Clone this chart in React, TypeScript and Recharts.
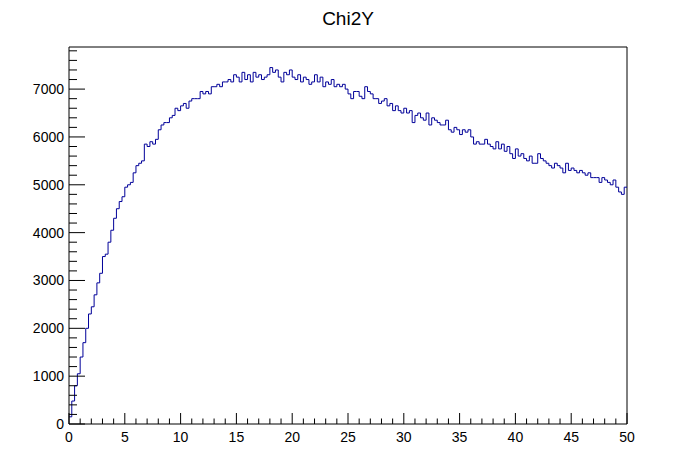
import React from "react";
import { LineChart, Line, XAxis, YAxis, ReferenceLine } from "recharts";

const binWidth = 0.25;
const counts: number[] = [
  150, 480, 800, 1050, 1400, 1700, 2000, 2300, 2450, 2700, 2950, 3150,
  3500, 3550, 3800, 4050, 4300, 4500, 4650, 4750, 4950, 5000, 5050, 5250,
  5400, 5450, 5500, 5850, 5800, 5900, 5850, 5950, 6150, 6250, 6300, 6300,
  6400, 6450, 6600, 6550, 6650, 6700, 6600, 6750, 6800, 6800, 6800, 6950,
  6900, 6950, 6900, 7050, 7050, 7100, 7050, 7150, 7150, 7200, 7150, 7300,
  7250, 7150, 7350, 7200, 7300, 7150, 7350, 7250, 7300, 7200, 7250, 7300,
  7450, 7350, 7400, 7250, 7150, 7350, 7300, 7400, 7250, 7200, 7300, 7150,
  7250, 7200, 7100, 7150, 7300, 7150, 7250, 7050, 7150, 7100, 7200, 7050,
  7100, 7050, 7100, 7000, 6900, 6800, 6950, 6950, 6850, 6800, 7050, 6950,
  6900, 6800, 6800, 6700, 6750, 6800, 6650, 6700, 6550, 6650, 6550, 6500,
  6600, 6500, 6550, 6300, 6450, 6500, 6400, 6350, 6500, 6250, 6400, 6350,
  6300, 6250, 6250, 6350, 6150, 6100, 6200, 6150, 6050, 6150, 6100, 6150,
  6000, 5850, 5900, 5850, 5850, 5950, 5850, 5800, 5750, 5900, 5750, 5850,
  5700, 5800, 5650, 5550, 5750, 5600, 5650, 5550, 5500, 5600, 5450, 5450,
  5650, 5550, 5500, 5450, 5400, 5350, 5450, 5400, 5350, 5250, 5450, 5300,
  5350, 5300, 5250, 5300, 5250, 5200, 5250, 5150, 5150, 5150, 5050, 5150,
  5100, 5050, 5000, 5100, 4950, 4850, 4800, 4950,
];
const xMajor = [0, 5, 10, 15, 20, 25, 30, 35, 40, 45, 50];
const yMajor = [0, 1000, 2000, 3000, 4000, 5000, 6000, 7000];
const yMax = 7880;

const data = counts.map((c, i) => ({ x: i * binWidth, y: c }));
data.push({ x: 50, y: counts[counts.length - 1] });

const xTicks: number[] = [];
for (let i = 0; i <= 50; i++) xTicks.push(i);
const yTicks: number[] = [];
for (let v = 0; v <= 7800; v += 200) yTicks.push(v);

const FONT = "'Liberation Sans', Arial, sans-serif";

const XTick = (p: any) => {
  const v = p.payload.value;
  const major = xMajor.includes(v);
  return (
    <g>
      <line x1={p.x} x2={p.x} y1={424} y2={major ? 413 : 418.5} stroke="#000" />
      {major && (
        <text x={p.x} y={442} textAnchor="middle" fontSize={14} fontFamily={FONT} fill="#000">
          {v}
        </text>
      )}
    </g>
  );
};

const YTick = (p: any) => {
  const v = p.payload.value;
  const major = yMajor.includes(v);
  return (
    <g>
      <line x1={69} x2={major ? 85 : 77} y1={p.y} y2={p.y} stroke="#000" />
      {major && (
        <text x={64} y={p.y + 5} textAnchor="end" fontSize={14} fontFamily={FONT} fill="#000">
          {v}
        </text>
      )}
    </g>
  );
};

export default function App() {
  return (
    <div style={{ position: "absolute", left: 0, top: 0, width: 696, height: 472, background: "#fff" }}>
      <div style={{ position: "absolute", left: 0, top: 8, width: 696, textAlign: "center", fontFamily: FONT, fontSize: 19 }}>
        Chi2Y
      </div>
      <LineChart width={696} height={472} data={data} margin={{ top: 47, right: 69, bottom: 0, left: 0 }}>
        <XAxis dataKey="x" type="number" domain={[0, 50]} ticks={xTicks} interval={0} height={48}
          axisLine={{ stroke: "#000" }} tickLine={false} tickSize={0} tick={<XTick />} allowDataOverflow />
        <YAxis type="number" domain={[0, yMax]} ticks={yTicks} interval={0} width={69}
          axisLine={{ stroke: "#000" }} tickLine={false} tickSize={0} tick={<YTick />} allowDataOverflow />
        <ReferenceLine y={yMax} stroke="#000" strokeWidth={1} ifOverflow="extendDomain" />
        <ReferenceLine x={50} stroke="#000" strokeWidth={1} ifOverflow="extendDomain" />
        <Line dataKey="y" type="stepAfter" stroke="#000099" strokeWidth={1} dot={false} isAnimationActive={false} />
      </LineChart>
    </div>
  );
}
